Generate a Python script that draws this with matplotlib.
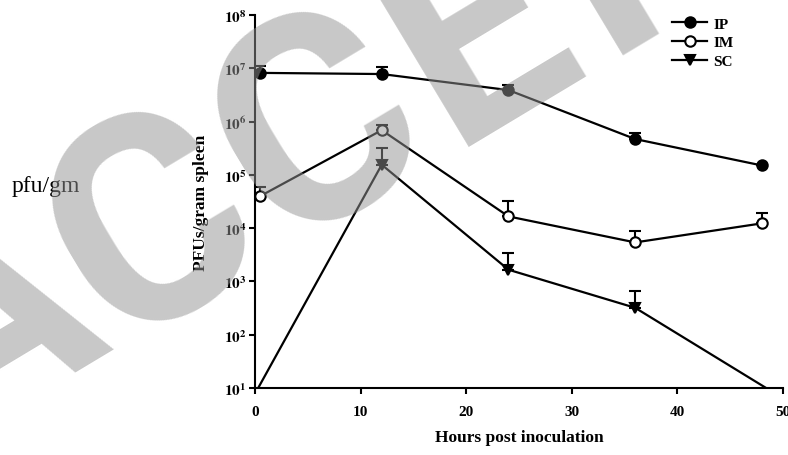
import numpy as np
import matplotlib
matplotlib.use("Agg")
import matplotlib.pyplot as plt
from matplotlib.lines import Line2D
from matplotlib.font_manager import FontProperties, findfont
from matplotlib.ft2font import FT2Font

plt.rcParams['font.family'] = ['Liberation Serif', 'DejaVu Serif']
plt.rcParams['mathtext.fontset'] = 'stix'

# hours post inoculation
x_ip = [0.5, 12, 24, 36, 48]
x_im = [0.5, 12, 24, 36, 48]
x_sc = [0.3, 12, 24, 36, 48.4]

# pfu / gram spleen
ip = [8.2e6, 7.8e6, 3.9e6, 4.7e5, 1.5e5]
ip_top = [1.1e7, 1.05e7, 4.8e6, 6.0e5, 1.55e5]
im = [4.0e4, 6.9e5, 1.66e4, 5.4e3, 1.23e4]
im_top = [5.9e4, 8.5e5, 3.2e4, 8.9e3, 1.9e4]
sc = [10, 1.55e5, 1.66e3, 3.2e2, 10]
sc_top = [10, 3.2e5, 3.4e3, 6.5e2, 10]

xticks = [0, 10, 20, 30, 40, 50]
ydecades = [1, 2, 3, 4, 5, 6, 7, 8]

fig = plt.figure(figsize=(7.88, 4.56), dpi=100)
ax = fig.add_axes([0.3236, 0.1469, 0.6701, 0.818])

def draw(x, y, top, marker, face, idx):
    x = np.array(x); y = np.array(y); top = np.array(top)
    ax.plot(x, y, color='black', lw=1.6, zorder=2)
    ax.errorbar(x[idx], y[idx], yerr=[np.zeros(len(idx)), top[idx] - y[idx]],
                fmt='none', ecolor='black', elinewidth=1.5, capsize=4, capthick=1.5, zorder=2)
    ax.plot(x[idx], y[idx], ls='none', marker=marker, ms=7.5, mfc=face,
            mec='black', mew=1.5, zorder=3)

draw(x_ip, ip, ip_top, 'o', 'black', [0, 1, 2, 3, 4])
draw(x_im, im, im_top, 'o', 'white', [0, 1, 2, 3, 4])
draw(x_sc, sc, sc_top, 'v', 'black', [1, 2, 3])

ax.set_yscale('log')
ax.set_xlim(0, 50)
ax.set_ylim(10, 1e8)
ax.set_xticks(xticks)
ax.set_xticklabels([str(t) for t in xticks], fontweight='bold', fontsize=11)
ax.set_yticks([10.0 ** d for d in ydecades])
ax.set_yticklabels([r'$\mathbf{10^{%d}}$' % d for d in ydecades], fontsize=11)
ax.yaxis.set_minor_locator(matplotlib.ticker.NullLocator())
ax.tick_params(axis='both', direction='out', length=4, width=1.5, color='black')
ax.tick_params(axis='x', pad=8)
ax.tick_params(axis='y', pad=2)
for s in ['top', 'right']:
    ax.spines[s].set_visible(False)
for s in ['left', 'bottom']:
    ax.spines[s].set_linewidth(1.5)
ax.set_xlabel('Hours post inoculation', fontweight='bold', fontsize=12.5, labelpad=8)
ax.set_ylabel('PFUs/gram spleen', fontweight='bold', fontsize=12.5, labelpad=11)

handles = [
    Line2D([], [], color='black', lw=1.6, marker='o', ms=7.5, mfc='black', mec='black', mew=1.5),
    Line2D([], [], color='black', lw=1.6, marker='o', ms=7.5, mfc='white', mec='black', mew=1.5),
    Line2D([], [], color='black', lw=1.6, marker='v', ms=7.5, mfc='black', mec='black', mew=1.5),
]
leg = fig.legend(handles, ['IP', 'IM', 'SC'], loc='upper left',
                 bbox_to_anchor=(672 / 788, 1 - 18 / 456), bbox_transform=fig.transFigure,
                 frameon=False, borderpad=0, borderaxespad=0, labelspacing=0.33,
                 handlelength=2.3, handletextpad=0.4, prop={'weight': 'bold', 'size': 11})

fig.text(12 / 788, 1 - 192 / 456, 'pfu/gm', fontsize=17, ha='left', va='baseline')

# watermark laid over the chart, letter by letter with extra tracking
wm_text = 'ACCEPTED'
wm_shift = [0, 0, 5, 15, 33, 45, 55, 65]
wm_size = 207
wm_ang = 31
fp = FontProperties(family='Roboto', weight='bold')
ft = FT2Font(findfont(fp))
ft.set_size(wm_size, 100)
u = np.array([np.cos(np.radians(wm_ang)), np.sin(np.radians(wm_ang))])
origin = np.array([-51.0, 8.0])
pen = 0.0
for ch, sh in zip(wm_text, wm_shift):
    p = origin + (pen + sh) * u
    fig.text(p[0] / 788, p[1] / 456, ch, fontproperties=fp, fontsize=wm_size,
             color='#939393', alpha=0.51, rotation=wm_ang, rotation_mode='anchor',
             ha='left', va='baseline', zorder=20)
    pen += ft.load_char(ord(ch)).linearHoriAdvance / 65536.0

fig.savefig('out.png', dpi=100)
